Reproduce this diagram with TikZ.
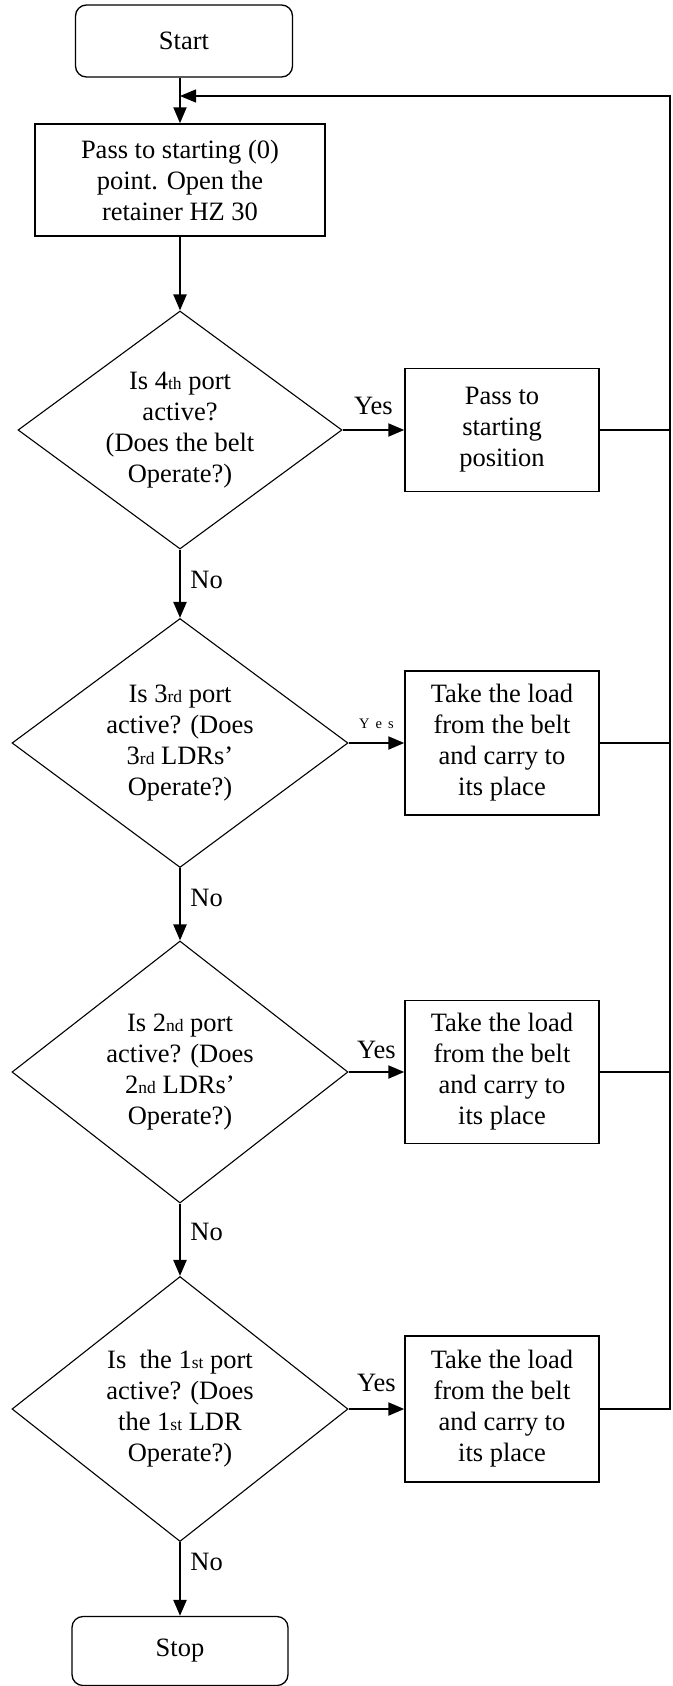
\documentclass[tikz,border=0pt]{standalone}
\usepackage{fontspec}
\setmainfont{Liberation Serif}
\usepackage{tikz}
\usetikzlibrary{shapes.geometric,arrows.meta}
\tikzstyle{every node}=[font=\fontsize{26.5}{31}\selectfont, align=center]
\tikzstyle{terminal}=[draw, rounded corners=11pt, line width=1.3pt, minimum width=217pt, minimum height=72pt]
\tikzstyle{process}=[draw, line width=1.5pt, minimum width=194pt, inner sep=0pt]
\tikzstyle{decision}=[draw, diamond, aspect=1.4, line width=1.1pt, inner sep=0pt, minimum width=336pt]
\tikzstyle{flow}=[line width=2.2pt, -{Triangle[length=16pt,width=13pt]}]
\tikzstyle{back}=[line width=1.4pt]
\newcommand{\ordsfx}[1]{{\fontsize{17.5}{17.5}\selectfont #1}}

\begin{document}
\begin{tikzpicture}[x=1pt,y=1pt]
\useasboundingbox (0,0) rectangle (672,-1686);

\node[terminal] (start) at (184,-41) {Start};
\node[process, minimum width=290pt, minimum height=112pt] (init) at (180,-180) {Pass to starting (0)\\point. Open the\\retainer HZ 30};

\node[decision, minimum width=324pt, minimum height=238pt] (d1) at (180,-430) {Is 4\ordsfx{th} port\\active?\\(Does the belt\\Operate?)};
\node[process, minimum height=123pt] (b1) at (502,-430) {Pass to\\starting\\position};

\node[decision, minimum height=249pt] (d2) at (180,-743) {Is 3\ordsfx{rd} port\\active? (Does\\3\ordsfx{rd} LDRs'\\Operate?)};
\node[process, minimum height=144pt] (b2) at (502,-743) {Take the load\\from the belt\\and carry to\\its place};

\node[decision, minimum height=262pt] (d3) at (180,-1072) {Is 2\ordsfx{nd} port\\active? (Does\\2\ordsfx{nd} LDRs'\\Operate?)};
\node[process, minimum height=143pt] (b3) at (502,-1072) {Take the load\\from the belt\\and carry to\\its place};

\node[decision, minimum height=265pt] (d4) at (180,-1409) {Is~ the 1\ordsfx{st} port\\active? (Does\\the 1\ordsfx{st} LDR\\Operate?)};
\node[process, minimum height=146pt] (b4) at (502,-1409) {Take the load\\from the belt\\and carry to\\its place};

\node[terminal, minimum width=216pt, minimum height=69pt] (stop) at (180,-1651) {Stop};

\coordinate (rt) at (670,-96);
\coordinate (join) at (180,-96);

\draw[flow] (init.north |- start.south) -- (init.north);
\draw[flow] (init) -- (d1);
\draw[flow] (d1) -- node[right=6pt, pos=0.44] {No} (d2);
\draw[flow] (d2) -- node[right=6pt, pos=0.41] {No} (d3);
\draw[flow] (d3) -- node[right=6pt, pos=0.39] {No} (d4);
\draw[flow] (d4) -- node[right=6pt, pos=0.27] {No} (stop);

\draw[flow] (d1.east) -- node[above=11pt] {Yes} (b1.west);
\draw[flow] (d2.east) -- node[above=10pt, font=\fontsize{14.5}{16}\selectfont] {Y\hspace{6pt}e\hspace{6pt}s} (b2.west);
\draw[flow] (d3.east) -- node[above=9pt] {Yes} (b3.west);
\draw[flow] (d4.east) -- node[above=13pt] {Yes} (b4.west);

\draw[back] (b1.east) -- (b1.east -| rt);
\draw[back] (b2.east) -- (b2.east -| rt);
\draw[back] (b3.east) -- (b3.east -| rt);
\draw[back, -{Triangle[length=16pt,width=13pt]}] (b4.east) -| (rt) -- (join);
\end{tikzpicture}
\end{document}
